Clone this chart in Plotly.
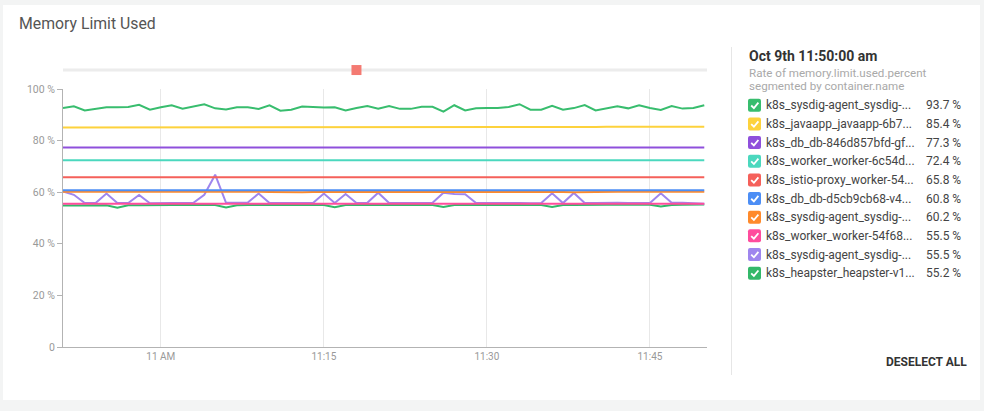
import pandas as pd
import plotly.graph_objects as go

# ---------------- data ----------------
TIMES = pd.date_range("2018-10-09 10:51:00", periods=60, freq="1min")
X_RANGE = ["2018-10-09 10:51:00", "2018-10-09 11:50:15"]
X_TICKVALS = ["2018-10-09 11:00:00", "2018-10-09 11:15:00", "2018-10-09 11:30:00", "2018-10-09 11:45:00"]
X_TICKTEXT = ["11 AM", "11:15", "11:30", "11:45"]
Y_TICKVALS = [0, 20, 40, 60, 80, 100]
Y_TICKTEXT = ["0", "20 %", "40 %", "60 %", "80 %", "100 %"]
EVENT_TIMES = ["2018-10-09 11:18:00"]

sysdig_agent_1 = [92.6, 93.3, 91.7, 92.3, 92.9, 92.9, 93.0, 93.9, 92.0, 92.9,
                  93.7, 92.4, 93.2, 94.1, 92.5, 92.1, 92.9, 92.9, 92.3, 93.7,
                  91.6, 92.0, 93.2, 92.9, 92.8, 92.9, 91.7, 92.6, 93.4, 92.4,
                  93.4, 92.3, 92.3, 93.1, 93.1, 91.2, 93.7, 91.7, 92.5, 92.6,
                  92.6, 93.0, 94.1, 92.0, 92.0, 93.5, 92.0, 92.6, 93.8, 91.7,
                  92.5, 93.3, 92.5, 93.7, 92.6, 91.9, 93.4, 92.4, 92.6, 93.7]
javaapp = [85.1, 85.1, 85.1, 85.1, 85.1, 85.1, 85.1, 85.1, 85.1, 85.1,
           85.1, 85.1, 85.1, 85.1, 85.1, 85.2, 85.2, 85.2, 85.2, 85.2,
           85.2, 85.2, 85.2, 85.2, 85.2, 85.2, 85.2, 85.2, 85.2, 85.2,
           85.2, 85.2, 85.2, 85.3, 85.3, 85.3, 85.3, 85.3, 85.3, 85.3,
           85.3, 85.3, 85.3, 85.3, 85.3, 85.3, 85.3, 85.3, 85.3, 85.3,
           85.4, 85.4, 85.4, 85.4, 85.4, 85.4, 85.4, 85.4, 85.4, 85.4]
db_846 = [77.3, 77.3, 77.3, 77.3, 77.3, 77.3, 77.3, 77.3, 77.3, 77.3,
          77.3, 77.3, 77.3, 77.3, 77.3, 77.3, 77.3, 77.3, 77.3, 77.3,
          77.3, 77.3, 77.3, 77.3, 77.3, 77.3, 77.3, 77.3, 77.3, 77.3,
          77.3, 77.3, 77.3, 77.3, 77.3, 77.3, 77.3, 77.3, 77.3, 77.3,
          77.3, 77.3, 77.3, 77.3, 77.3, 77.3, 77.4, 77.4, 77.3, 77.3,
          77.3, 77.3, 77.3, 77.3, 77.3, 77.3, 77.3, 77.3, 77.3, 77.3]
worker_6c54 = [72.4] * 60
istio_proxy = [65.8] * 60
db_d5cb = [60.8] * 60
sysdig_agent_2 = [60.2, 60.2, 60.3, 60.4, 60.3, 60.2, 60.2, 60.2, 60.2, 60.2,
                  60.2, 60.2, 60.2, 60.2, 60.2, 60.2, 60.2, 60.2, 60.2, 60.1,
                  60.0, 60.0, 60.0, 60.1, 60.1, 60.2, 60.2, 60.2, 60.2, 60.2,
                  60.2, 60.2, 60.3, 60.3, 60.3, 60.3, 60.2, 60.2, 60.2, 60.1,
                  60.1, 60.1, 60.1, 60.1, 60.1, 60.1, 60.1, 60.0, 60.1, 60.1,
                  60.1, 60.2, 60.2, 60.2, 60.2, 60.2, 60.2, 60.3, 60.3, 60.2]
worker_54f68 = [55.5] * 60
sysdig_agent_3 = [60.3, 59.0, 55.8, 55.8, 59.5, 55.8, 55.8, 58.9, 55.7, 55.7,
                  55.7, 55.8, 55.9, 59.0, 66.8, 55.9, 55.9, 56.0, 59.5, 55.8,
                  55.8, 55.8, 55.8, 55.8, 59.5, 55.8, 59.3, 55.8, 55.9, 59.8,
                  55.8, 55.8, 55.9, 56.0, 55.9, 59.8, 59.3, 59.2, 55.8, 55.8,
                  55.8, 56.0, 55.8, 55.7, 55.8, 59.6, 55.8, 59.7, 55.8, 55.8,
                  55.9, 55.9, 55.8, 55.7, 55.8, 59.6, 55.9, 55.9, 55.8, 55.5]
heapster = [54.8, 54.8, 54.8, 54.9, 54.9, 54.0, 54.9, 54.9, 55.0, 55.0,
            55.0, 55.0, 55.0, 55.0, 55.0, 54.1, 54.9, 55.0, 55.0, 55.0,
            55.0, 55.0, 55.0, 55.0, 55.0, 54.2, 55.0, 55.0, 55.0, 55.0,
            55.0, 55.0, 55.0, 55.0, 55.0, 54.3, 55.0, 55.0, 55.0, 55.0,
            55.0, 55.0, 55.0, 55.0, 55.0, 54.3, 55.0, 55.0, 55.1, 55.1,
            55.1, 55.1, 55.1, 55.1, 55.1, 54.5, 55.0, 55.1, 55.2, 55.2]

SERIES_NAMES = ["k8s_sysdig-agent_sysdig-...", "k8s_javaapp_javaapp-6b7...",
                "k8s_db_db-846d857bfd-gf...", "k8s_worker_worker-6c54d...",
                "k8s_istio-proxy_worker-54...", "k8s_db_db-d5cb9cb68-v4...",
                "k8s_sysdig-agent_sysdig-...", "k8s_worker_worker-54f68...",
                "k8s_sysdig-agent_sysdig-...", "k8s_heapster_heapster-v1..."]
SERIES_VALUES = [sysdig_agent_1, javaapp, db_846, worker_6c54, istio_proxy,
                 db_d5cb, sysdig_agent_2, worker_54f68, sysdig_agent_3, heapster]
SERIES_COLORS = ["#38bd6e", "#fdd23c", "#8f50dc", "#4bd8be", "#f5605a",
                 "#4c8ef5", "#ff8a2b", "#ff4d9d", "#9f86ee", "#33b869"]

# ---------------- geometry helpers ----------------
W, H = 984, 411
L, R, T, B = 63, 277, 60, 64
PW, PH = W - L - R, H - T - B


def xp(px):
    return (px - L) / PW


def yp(py):
    return (H - B - py) / PH


def pt(px, py):
    return f"{xp(px):.5f},{yp(py):.5f}"


def rrect(x0, y0, x1, y1, r):
    return ("M " + pt(x0 + r, y0) + " L " + pt(x1 - r, y0) + " Q " + pt(x1, y0) + " " + pt(x1, y0 + r)
            + " L " + pt(x1, y1 - r) + " Q " + pt(x1, y1) + " " + pt(x1 - r, y1)
            + " L " + pt(x0 + r, y1) + " Q " + pt(x0, y1) + " " + pt(x0, y1 - r)
            + " L " + pt(x0, y0 + r) + " Q " + pt(x0, y0) + " " + pt(x0 + r, y0) + " Z")


fig = go.Figure()

# draw lowest legend entries first so top ones are on top
for name, vals, col in reversed(list(zip(SERIES_NAMES, SERIES_VALUES, SERIES_COLORS))):
    fig.add_trace(go.Scatter(x=TIMES, y=vals, mode="lines", name=name,
                             line=dict(color=col, width=2), xaxis="x", yaxis="y",
                             showlegend=False))

# event marker row
fig.add_trace(go.Scatter(x=EVENT_TIMES, y=[0.5] * len(EVENT_TIMES), mode="markers",
                         marker=dict(symbol="square", size=10, color="#f47a72"),
                         xaxis="x2", yaxis="y2", showlegend=False))

shapes = []
annotations = []

# white card
shapes.append(dict(type="rect", xref="paper", yref="paper", x0=xp(3), x1=xp(980),
                   y0=yp(400), y1=yp(5), fillcolor="white", line=dict(width=0), layer="below"))
# event line
shapes.append(dict(type="line", xref="x2 domain", yref="y2", x0=0, x1=1, y0=0.5, y1=0.5,
                   line=dict(color="#ececec", width=3), layer="below"))
# separator
shapes.append(dict(type="line", xref="paper", yref="paper", x0=xp(731.5), x1=xp(731.5),
                   y0=yp(47), y1=yp(375), line=dict(color="#e6e6e6", width=1)))

# title
annotations.append(dict(text="Memory Limit Used", xref="paper", yref="paper", x=xp(17), y=yp(23.5),
                        xanchor="left", yanchor="middle", showarrow=False,
                        font=dict(family="Roboto", size=15.8, color="#555555")))

# legend header
annotations.append(dict(text="<b>Oct 9th 11:50:00 am</b>", xref="paper", yref="paper",
                        x=xp(747), y=yp(55.5), xanchor="left", yanchor="middle", showarrow=False,
                        font=dict(family="Roboto", size=14, color="#333333")))
annotations.append(dict(text="Rate of memory.limit.used.percent", xref="paper", yref="paper",
                        x=xp(747), y=yp(73), xanchor="left", yanchor="middle", showarrow=False,
                        font=dict(family="Roboto", size=11.6, color="#a9a9a9")))
annotations.append(dict(text="segmented by container.name", xref="paper", yref="paper",
                        x=xp(747), y=yp(86.2), xanchor="left", yanchor="middle", showarrow=False,
                        font=dict(family="Roboto", size=11.6, color="#a9a9a9")))

row0, step = 105.3, 18.65
for i, (name, vals, col) in enumerate(zip(SERIES_NAMES, SERIES_VALUES, SERIES_COLORS)):
    cy = row0 + i * step
    shapes.append(dict(type="path", xref="paper", yref="paper",
                       path=rrect(748, cy - 6.5, 761, cy + 6.5, 2),
                       fillcolor=col, line=dict(width=0)))
    shapes.append(dict(type="path", xref="paper", yref="paper",
                       path="M " + pt(751.2, cy + 0.2) + " L " + pt(753.9, cy + 2.8) + " L " + pt(758.4, cy - 2.6),
                       line=dict(color="white", width=1.8)))
    annotations.append(dict(text=name, xref="paper", yref="paper", x=xp(764), y=yp(cy),
                            xanchor="left", yanchor="middle", showarrow=False,
                            font=dict(family="Roboto", size=12, color="#444444")))
    annotations.append(dict(text=f"{vals[-1]:.1f} %", xref="paper", yref="paper", x=xp(963), y=yp(cy),
                            xanchor="right", yanchor="middle", showarrow=False,
                            font=dict(family="Roboto", size=12, color="#444444")))

annotations.append(dict(text="<b>DESELECT ALL</b>", xref="paper", yref="paper", x=xp(968.5), y=yp(362),
                        xanchor="right", yanchor="middle", showarrow=False,
                        font=dict(family="Roboto", size=12, color="#333333")))

main_top = yp(89)
fig.update_layout(
    width=W, height=H,
    margin=dict(l=L, r=R, t=T, b=B, pad=0),
    paper_bgcolor="#f3f4f4", plot_bgcolor="white",
    font=dict(family="Roboto"),
    xaxis=dict(type="date", range=X_RANGE, domain=[0, 1], anchor="y",
               tickvals=X_TICKVALS, ticktext=X_TICKTEXT, ticks="",
               showgrid=True, gridcolor="#e8e8e8", gridwidth=1,
               showline=True, linecolor="#b3b3b3", linewidth=1, zeroline=False,
               tickfont=dict(family="Roboto", size=10, color="#999999")),
    yaxis=dict(range=[0, 100], domain=[0, main_top], anchor="x",
               tickvals=Y_TICKVALS, ticktext=Y_TICKTEXT, ticks="outside", ticklen=5,
               tickcolor="#b3b3b3", showgrid=False, zeroline=False,
               showline=True, linecolor="#b3b3b3", linewidth=1,
               tickfont=dict(family="Roboto", size=10.5, color="#999999")),
    xaxis2=dict(type="date", range=X_RANGE, domain=[0, 1], anchor="y2", visible=False,
                showgrid=False, matches="x"),
    yaxis2=dict(range=[0, 1], domain=[0.93, 1.0], anchor="x2", visible=False, showgrid=False),
    shapes=shapes,
    annotations=annotations,
    hovermode=False,
)

fig.write_html("out.html",
               config={"displayModeBar": False, "staticPlot": True},
               post_script="document.body.style.margin='0';document.body.style.overflow='hidden';")
